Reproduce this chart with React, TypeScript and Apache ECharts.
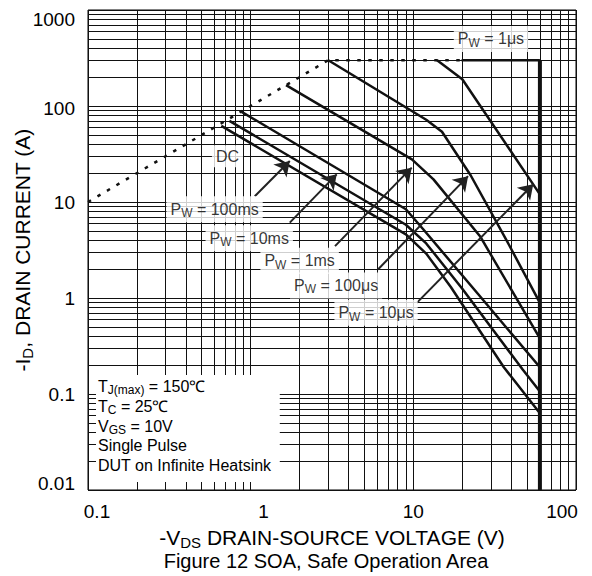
import React, { useEffect, useRef } from "react";
import * as echarts from "echarts";

const FONT = "'Liberation Sans', Arial, Helvetica, sans-serif";

// Axis ranges and tick labels
const xRange = [0.1, 100];
const yRange = [0.01, 1000];
const xTickLabels = [0.1, 1, 10, 100];
const yTickLabels = [0.01, 0.1, 1, 10, 100, 1000];
const gridMantissas = [1, 2, 3, 4, 5, 6, 7, 8, 9];

// Curves: [-VDS (V), -ID (A)]
const rdsLimit = [[0.1, 10], [3, 300], [19.8, 300]];
const pw1usTop = [[19.8, 300], [60, 300]];
const bvdssLimit = [[60, 300], [60, 0.01]];
const pw10us = [[14, 300], [20, 190], [60, 12]];
const pw100us = [[3, 300], [12, 72], [15, 54], [22.5, 19], [39, 3.5], [60, 0.89]];
const pw1ms = [[1.65, 165], [9.8, 27.8], [13.3, 17.2], [25.7, 4.4], [60, 0.38]];
const pw10ms = [[0.88, 87], [9, 8.4], [11.5, 5.2], [25, 1.1], [60, 0.19]];
const pw100ms = [[0.74, 70], [9, 5.8], [12, 3.7], [20, 1.25], [47, 0.18], [60, 0.106]];
const dc = [[0.66, 62], [9, 4.6], [12, 2.9], [17, 1.3], [36, 0.19], [60, 0.063]];

// Annotation labels (centre positions in data space)
const labelTexts = ["P{s|W} = 1μs", "DC", "P{s|W} = 100ms", "P{s|W} = 10ms", "P{s|W} = 1ms", "P{s|W} = 100μs", "P{s|W} = 10μs"];
const labelPositions = [[30, 500], [0.72, 30], [0.6, 8.4], [0.98, 4.2], [2.0, 2.45], [3.35, 1.35], [5.9, 0.7]];

// Arrows: [start, tip]
const arrows = [
  [[1.06, 11.5], [1.74, 26.7]],
  [[1.74, 6.1], [3.38, 19.4]],
  [[3.3, 3.47], [9.77, 22.8]],
  [[6.06, 1.98], [21.7, 18.6]],
  [[10.5, 0.89], [54.6, 15.3]],
];

// Conditions box (corners in data space)
const conditionsBox = [[0.112, 0.158], [1.51, 0.0121]];
const conditionsText =
  "T{s|J(max)} = 150℃\nT{s|C} = 25℃\nV{s|GS} = 10V\nSingle Pulse\nDUT on Infinite Heatsink";

const fmt = (v: number) => String(Number(v.toPrecision(2)));

// Small per-label nudges so tick labels sit where the printed sheet puts them
const xLabelRich: any = {
  a: { fontSize: 19, fontFamily: FONT, color: "#000", padding: [0, 0, 0, 18] },
  b: { fontSize: 19, fontFamily: FONT, color: "#000", padding: [0, 0, 0, 26] },
  c: { fontSize: 19, fontFamily: FONT, color: "#000" },
  d: { fontSize: 19, fontFamily: FONT, color: "#000", padding: [0, 28, 0, 0] },
};
const xLabelStyleKeys = ["a", "b", "c", "d"];
const yLabelRich: any = {
  a: { fontSize: 19, fontFamily: FONT, color: "#000", padding: [0, 0, 14, 0] },
  c: { fontSize: 19, fontFamily: FONT, color: "#000" },
  e: { fontSize: 19, fontFamily: FONT, color: "#000", padding: [4, 0, 0, 0] },
  f: { fontSize: 19, fontFamily: FONT, color: "#000", padding: [18, 0, 0, 0] },
};
const yLabelStyleKeys = ["a", "c", "c", "c", "e", "f"];

function gridValues(range: number[]) {
  const out: number[] = [];
  const lo = Math.round(Math.log10(range[0]));
  const hi = Math.round(Math.log10(range[1]));
  for (let e = lo; e <= hi; e++) {
    for (const m of gridMantissas) {
      const v = Number((m * Math.pow(10, e)).toPrecision(3));
      if (v >= range[0] * 0.999 && v <= range[1] * 1.001) out.push(v);
    }
  }
  return out;
}

function tickIndex(list: number[], v: number) {
  let best = 0;
  for (let i = 0; i < list.length; i++) {
    if (Math.abs(Math.log10(list[i]) - Math.log10(v)) < Math.abs(Math.log10(list[best]) - Math.log10(v))) best = i;
  }
  return best;
}

export default function App() {
  const ref = useRef<HTMLDivElement>(null);
  useEffect(() => {
    const chart = echarts.init(ref.current!, null, { renderer: "svg" });
    const lineStyleBase = { color: "#111" };
    const curve = (name: string, data: number[][], width: number, type: any = "solid") => ({
      type: "line",
      name,
      data,
      z: 4,
      symbol: "none",
      showSymbol: false,
      silent: true,
      clip: false,
      lineStyle: { ...lineStyleBase, width, type },
    });
    const option: any = {
      animation: false,
      backgroundColor: "#fff",
      textStyle: { fontFamily: FONT },
      grid: {
        left: 88,
        top: 10,
        width: 488,
        height: 480,
        containLabel: false,
        outerBoundsMode: "none",
        show: true,
        borderColor: "#000",
        borderWidth: 1,
        backgroundColor: "#fff",
      },
      xAxis: {
        type: "log",
        logBase: 10,
        min: xRange[0],
        max: xRange[1],
        axisLine: { show: false },
        axisTick: { show: false },
        splitLine: { show: false },
        axisLabel: {
          fontSize: 19,
          color: "#000",
          fontFamily: FONT,
          margin: 12,
          formatter: (v: number) => `{${xLabelStyleKeys[tickIndex(xTickLabels, v)]}|${fmt(v)}}`,
          rich: xLabelRich,
          customValues: xTickLabels,
        },
        name: "-V{s|DS} DRAIN-SOURCE VOLTAGE (V)",
        nameLocation: "middle",
        nameGap: 34,
        nameMoveOverlap: false,
        nameTextStyle: {
          fontSize: 21,
          color: "#000",
          fontFamily: FONT,
          rich: { s: { fontSize: 15, fontFamily: FONT, color: "#000", padding: [11, 0, 0, 0] } },
        },
      },
      yAxis: {
        type: "log",
        logBase: 10,
        min: yRange[0],
        max: yRange[1],
        axisLine: { show: false },
        axisTick: { show: false },
        splitLine: { show: false },
        axisLabel: {
          fontSize: 19,
          color: "#000",
          fontFamily: FONT,
          margin: 13,
          formatter: (v: number) => `{${yLabelStyleKeys[tickIndex(yTickLabels, v)]}|${fmt(v)}}`,
          rich: yLabelRich,
          customValues: yTickLabels,
        },
        name: "-I{s|D}, DRAIN CURRENT (A)",
        nameLocation: "middle",
        nameRotate: 90,
        nameGap: 53,
        nameMoveOverlap: false,
        nameTextStyle: {
          fontSize: 21,
          color: "#000",
          fontFamily: FONT,
          rich: { s: { fontSize: 15, fontFamily: FONT, color: "#000", padding: [11, 0, 0, 0] } },
        },
      },
      series: [
        {
          type: "line",
          name: "grid",
          data: [[1, 1]],
          symbol: "none",
          showSymbol: false,
          lineStyle: { width: 0 },
          silent: true,
          z: 1,
          markLine: {
            z: 1,
            silent: true,
            symbol: "none",
            animation: false,
            label: { show: false },
            lineStyle: { color: "#111", width: 1, type: "solid" },
            data: [
              ...gridValues(xRange).map((v) => ({ xAxis: v })),
              ...gridValues(yRange).map((v) => ({ yAxis: v })),
            ],
          },
        },
        curve("RDS(on) limit", rdsLimit, 2.5, [3.5, 7.5]),
        curve("PW = 1μs", pw1usTop, 2.5),
        curve("BVDSS", bvdssLimit, 4),
        curve("PW = 10μs", pw10us, 2.5),
        curve("PW = 100μs", pw100us, 2.5),
        curve("PW = 1ms", pw1ms, 2.5),
        curve("PW = 10ms", pw10ms, 2.5),
        curve("PW = 100ms", pw100ms, 2.5),
        curve("DC", dc, 2.5),
        {
          type: "lines",
          name: "arrows",
          coordinateSystem: "cartesian2d",
          z: 5,
          silent: true,
          symbol: ["none", "arrow"],
          symbolSize: 14,
          lineStyle: { color: "#222", width: 2, opacity: 1 },
          data: arrows.map((a) => ({ coords: a })),
        },
        {
          type: "scatter",
          name: "labels",
          z: 6,
          silent: true,
          symbol: "circle",
          symbolSize: 1,
          itemStyle: { color: "rgba(0,0,0,0)" },
          label: {
            show: true,
            position: "inside",
            color: "#000",
            fontSize: 16,
            fontFamily: FONT,
            backgroundColor: "#fff",
            padding: [3, 4, 3, 4],
            rich: {
              s: { fontSize: 12, fontFamily: FONT, color: "#000", padding: [8, 0, 0, 0] },
            },
          },
          data: labelPositions.map((p, i) => ({
            value: p,
            label: { formatter: labelTexts[i] },
          })),
        },
      ],
    };
    chart.setOption(option);

    const p0 = chart.convertToPixel({ gridIndex: 0 }, conditionsBox[0]) as number[];
    const p1 = chart.convertToPixel({ gridIndex: 0 }, conditionsBox[1]) as number[];
    chart.setOption({
      graphic: [
        {
          type: "rect",
          z: 3,
          silent: true,
          shape: { x: p0[0], y: p0[1], width: p1[0] - p0[0], height: p1[1] - p0[1] },
          style: { fill: "#fff", stroke: null },
        },
        {
          type: "text",
          z: 3,
          silent: true,
          x: p0[0] + 2,
          y: p0[1] + 2,
          style: {
            text: conditionsText,
            fontSize: 16,
            fontFamily: FONT,
            fill: "#000",
            lineHeight: 19.7,
            align: "left",
            verticalAlign: "top",
            rich: {
              s: { fontSize: 12, fontFamily: FONT, fill: "#000", lineHeight: 12, padding: [7, 0, 0, 0] },
            },
          },
        },
        {
          type: "text",
          x: 326,
          y: 561,
          style: {
            text: "Figure 12 SOA, Safe Operation Area",
            fontSize: 20,
            fontFamily: FONT,
            fill: "#000",
            align: "center",
            verticalAlign: "middle",
          },
        },
      ],
    });
    return () => chart.dispose();
  }, []);
  return (
    <div
      ref={ref}
      style={{ position: "absolute", left: 0, top: 0, width: 592, height: 576, background: "#fff" }}
    />
  );
}
